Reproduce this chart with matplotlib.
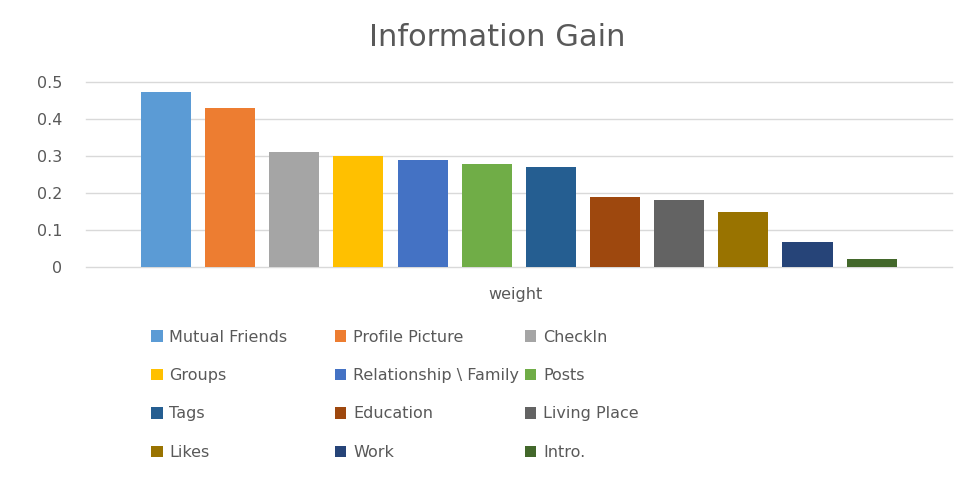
import matplotlib
matplotlib.use("Agg")
import matplotlib.pyplot as plt
from matplotlib.patches import Patch

series = ["Mutual Friends", "Profile Picture", "CheckIn", "Groups",
          "Relationship \\ Family", "Posts", "Tags", "Education",
          "Living Place", "Likes", "Work", "Intro."]
values = [0.475, 0.43, 0.312, 0.30, 0.29, 0.28, 0.272, 0.191, 0.181, 0.15, 0.068, 0.023]
category = "weight"
yticks = [0, 0.1, 0.2, 0.3, 0.4, 0.5]
ytick_labels = ["0", "0.1", "0.2", "0.3", "0.4", "0.5"]
colors = ["#5B9BD5", "#ED7D31", "#A5A5A5", "#FFC000", "#4472C4", "#70AD47",
          "#255E91", "#9E480E", "#636363", "#997300", "#264478", "#43682B"]

plt.rcParams['font.family'] = ['DejaVu Sans']
TXT = "#595959"

fig = plt.figure(figsize=(9.79, 4.90), dpi=100)
ax = fig.add_axes([86/979, 1-267.3/490, (951.7-86)/979, (267.3-82.3)/490])

n = len(values)
slot = 0.0741
width = 0.0578
for i, (v, c, s) in enumerate(zip(values, colors, series)):
    ax.bar((i - (n-1)/2) * slot, v, width=width, color=c, label=s, zorder=3)

ax.set_xlim(-0.5, 0.5)
ax.set_ylim(0, 0.5)
ax.set_yticks(yticks)
ax.set_yticklabels(ytick_labels, fontsize=11.5, color=TXT)
ax.tick_params(axis='y', length=0, pad=17)
ax.set_xticks([])
for sp in ax.spines.values():
    sp.set_visible(False)
ax.grid(axis='y', color="#D9D9D9", linewidth=1.0, zorder=0)
ax.set_axisbelow(True)
for gl in ax.yaxis.get_gridlines():
    gl.set_clip_on(False)

fig.text(515/979, 1-295/490, category, ha='center', va='center', fontsize=11.5, color=TXT)
fig.text(497/979, 1-37/490, "Information Gain", ha='center', va='center', fontsize=22, color=TXT)

handles = [Patch(facecolor=c, edgecolor='none') for c in colors]
colx = [151, 335, 525]
for col in range(3):
    idx = [col + 3*r for r in range(4)]
    leg = fig.legend([handles[i] for i in idx], [series[i] for i in idx],
                     loc='upper left', bbox_to_anchor=(colx[col]/979, 1-329.5/490),
                     frameon=False, fontsize=11.5, labelcolor=TXT,
                     handlelength=0.72, handleheight=0.72, handletextpad=0.42,
                     labelspacing=1.47, borderaxespad=0, borderpad=0)

fig.savefig("out.png", dpi=100, facecolor='white')
